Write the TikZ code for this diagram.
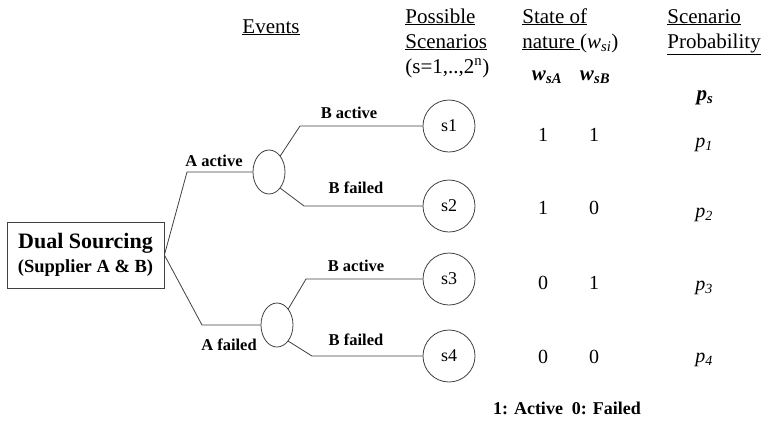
\documentclass[tikz,border=0pt]{standalone}
\usepackage{fontspec}
\setmainfont{Liberation Serif}
\usetikzlibrary{shapes.geometric}

\newcommand{\hdfont}{\fontsize{21}{25}\selectfont}

\begin{document}
\begin{tikzpicture}[x=1pt,y=-1pt,line width=0.8pt,
        edge/.style={draw=black!75},
        rootbox/.style={draw=black!75,minimum width=157pt,minimum height=66pt,inner sep=0pt,align=center,font=\bfseries\fontsize{22}{24}\selectfont},
        chance/.style={draw=black!75,ellipse,minimum width=32pt,minimum height=44pt,inner sep=0pt},
        scen/.style={draw=black!75,circle,minimum size=52pt,inner sep=0pt,font=\fontsize{18}{20}\selectfont},
        lbl/.style={inner sep=0pt,font=\bfseries\fontsize{16.5}{18}\selectfont},
        head/.style={inner sep=0pt,anchor=base west,align=left,font=\hdfont},
        val/.style={inner sep=0pt,font=\fontsize{20}{22}\selectfont}]
    \useasboundingbox (0,0) rectangle (765,421);

    % headings (base = baseline of the last line)
    \node[head,anchor=base] (events) at (271,33) {\underline{Events}};
    \node[head] (poss) at (405,73) {\underline{Possible}\\\underline{Scenarios}\\(s=1,..,2\textsuperscript{n})};
    \node[head] (state) at (522,48) {\underline{State of}\\\underline{nature\ }(\textit{w}\textsubscript{\textit{si}})};
    \node[head] (prob) at (667,48) {\underline{Scenario}\\\underline{Probability}};
    \node[head,anchor=base] (wa) at (547,80) {\textbf{\textit{w}}\textsubscript{\textbf{\textit{sA}}}};
    \node[head,anchor=base] (wb) at (595,80) {\textbf{\textit{w}}\textsubscript{\textbf{\textit{sB}}}};
    \node[head,anchor=base] (ps) at (705,100) {\textbf{\textit{p}}\textsubscript{\textbf{\textit{s}}}};

    % tree
    \node[rootbox] (root) at (85.5,255) {Dual Sourcing\\{\fontsize{18.5}{24}\selectfont (Supplier A \& B)}};
    \node[chance] (ea) at (269,172) {};
    \node[chance] (eb) at (277,325) {};
    \node[scen] (s1) at (449,126) {s1};
    \node[scen] (s2) at (449,206) {s2};
    \node[scen] (s3) at (449,279) {s3};
    \node[scen] (s4) at (449,356) {s4};

    \coordinate (ka) at (187,172);
    \coordinate (kb) at (202,325);
    \coordinate (k1) at (300,126);
    \coordinate (k2) at (304,206);
    \coordinate (k3) at (306,279);
    \coordinate (k4) at (312,356);

    \draw[edge] (root.east) -- (ka) -- (ea.west);
    \draw[edge] (root.east) -- (kb) -- (eb.west);
    \draw[edge] (ea.55) -- (k1) -- (s1.west);
    \draw[edge] (ea.-55) -- (k2) -- (s2.west);
    \draw[edge] (eb.55) -- (k3) -- (s3.west);
    \draw[edge] (eb.-55) -- (k4) -- (s4.west);

    \node[lbl] (la) at (214,161) {A active};
    \node[lbl] (lf) at (229,345) {A failed};
    \node[lbl] (l1) at (349,113) {B active};
    \node[lbl] (l2) at (356,188) {B failed};
    \node[lbl] (l3) at (356,266) {B active};
    \node[lbl] (l4) at (356,340) {B failed};

    % states and probabilities
    \foreach \i/\y/\a/\b/\py in {1/135/1/1/145,2/208/1/0/215,3/283/0/1/288,4/357/0/0/360}{
        \node[val] (a\i) at (543,\y) {\a};
        \node[val] (b\i) at (594,\y) {\b};
        \node[val] (p\i) at (704,\py) {\textit{p}\textsubscript{\textit{\i}}};
    }

    \node[lbl,font=\bfseries\fontsize{18}{20}\selectfont] (legend) at (567,408) {1: Active\ \ 0: Failed};
\end{tikzpicture}
\end{document}
